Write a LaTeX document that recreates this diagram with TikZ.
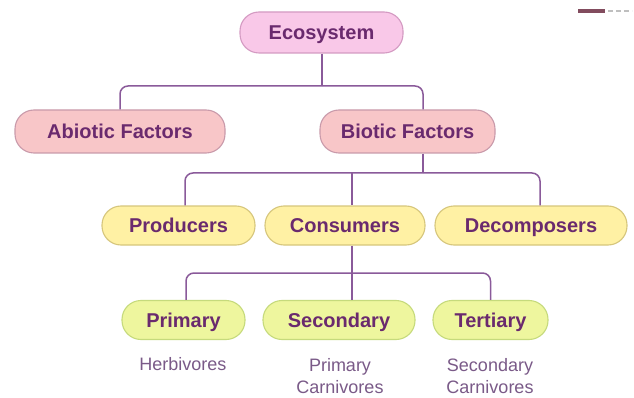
\documentclass[tikz,border=0pt]{standalone}
\usepackage{fontspec}
\setmainfont{Liberation Sans}
\definecolor{txt}{HTML}{6A2A6E}
\definecolor{lnk}{HTML}{8A5A9A}
\definecolor{ecofill}{HTML}{F9C8E8}
\definecolor{ecodraw}{HTML}{D49AC2}
\definecolor{facfill}{HTML}{F8C6C8}
\definecolor{facdraw}{HTML}{C99AAA}
\definecolor{yelfill}{HTML}{FFF1A4}
\definecolor{yeldraw}{HTML}{D6C67C}
\definecolor{grnfill}{HTML}{EEF69E}
\definecolor{grndraw}{HTML}{C6DA7C}
\definecolor{subtxt}{HTML}{7A5A88}
\tikzset{
  boxbase/.style={draw, line width=1.1pt, rounded corners=19pt, inner sep=0pt,
    text=txt, text height=14.3pt, text depth=0pt,
    font=\fontsize{20}{24}\selectfont\bfseries},
  ecobox/.style={boxbase, fill=ecofill, draw=ecodraw},
  facbox/.style={boxbase, fill=facfill, draw=facdraw},
  yelbox/.style={boxbase, fill=yelfill, draw=yeldraw},
  grnbox/.style={boxbase, fill=grnfill, draw=grndraw},
  sublabel/.style={text=subtxt, font=\fontsize{18}{22}\selectfont, align=center, inner sep=0pt},
  link/.style={draw=lnk, line width=1.5pt, rounded corners=8pt}
}
\begin{document}
\begin{tikzpicture}[x=1pt,y=-1pt]
\useasboundingbox (0,0) rectangle (634,398);
\fill[white] (0,0) rectangle (634,398);
% top-right fragment
\fill[black!60!purple!70] (578,9.5) rectangle (605,13);
\draw[gray!50, line width=1.2pt, dash pattern=on 5pt off 3pt] (608,11) -- (632,11);
% nodes
\node[ecobox, minimum width=163pt, minimum height=41pt] (eco) at (321.5,32.5) {Ecosystem};
\node[facbox, minimum width=210pt, minimum height=43pt] (abio) at (120,131.5) {Abiotic Factors};
\node[facbox, minimum width=175pt, minimum height=43pt] (bio) at (407.5,131.5) {Biotic Factors};
\node[yelbox, minimum width=153pt, minimum height=39pt] (prod) at (178.5,225.5) {Producers};
\node[yelbox, minimum width=160pt, minimum height=39pt] (cons) at (345,225.5) {Consumers};
\node[yelbox, minimum width=192pt, minimum height=39pt] (deco) at (531,225.5) {Decomposers};
\node[grnbox, minimum width=123pt, minimum height=39pt] (prim) at (183.5,320) {Primary};
\node[grnbox, minimum width=152pt, minimum height=39pt] (seco) at (339,320) {Secondary};
\node[grnbox, minimum width=115pt, minimum height=39pt] (tert) at (490.5,320) {Tertiary};
\node[sublabel] (herb) at (183,364) {Herbivores};
\node[sublabel] (pcarn) at (340,376) {Primary\\Carnivores};
\node[sublabel] (scarn) at (490,376) {Secondary\\Carnivores};
% junction coordinates
\coordinate (j1) at (322,86);
\coordinate (j2) at (423,173);
\coordinate (j3) at (352,273);
% connectors
\draw[link] (eco.south -| j1) -- (j1);
\draw[link] (j1) -| (abio.north);
\draw[link] (j1) -| (bio.north -| j2);
\draw[link] (bio.south -| j2) -- (j2);
\draw[link] (j2) -| (prod.north -| 185,0);
\draw[link] (j2 -| cons.north -| 352,0) -- (cons.north -| 352,0);
\draw[link] (j2) -| (deco.north -| 540,0);
\draw[link] (cons.south -| j3) -- (j3);
\draw[link] (j3) -| (prim.north -| 186,0);
\draw[link] (j3) -- (seco.north -| j3);
\draw[link] (j3) -| (tert.north);
\end{tikzpicture}
\end{document}
